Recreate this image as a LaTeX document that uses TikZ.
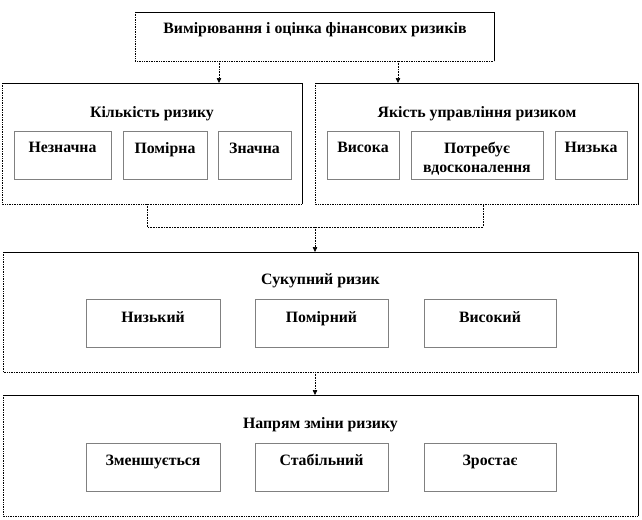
\documentclass[tikz,border=0pt]{standalone}
\usepackage{fontspec}
\setmainfont{Liberation Serif}
\usetikzlibrary{arrows.meta}
\begin{document}
\begin{tikzpicture}[x=1pt, y=-1pt,
    font=\fontsize{15.8}{18}\selectfont\bfseries,
    outer/.style={inner sep=0pt, outer sep=0pt},
    inner/.style={draw=black!50, line width=0.8pt, inner sep=0pt, minimum height=48pt},
    title/.style={inner sep=0pt},
    conn/.style={densely dotted, line width=0.6pt},
    tip/.style={-{Triangle[length=5pt, width=4.5pt]}}]
    \useasboundingbox (0,0) rectangle (642,519);
    % Outer frames
    \node[outer, minimum width=359pt, minimum height=49pt] (top) at (314.5,36.5) {};
    \node[outer, minimum width=300pt, minimum height=121pt] (L) at (152,143.5) {};
    \node[outer, minimum width=323pt, minimum height=121pt] (R) at (476.5,143.5) {};
    \node[outer, minimum width=635pt, minimum height=120pt] (S) at (320.5,312) {};
    \node[outer, minimum width=635pt, minimum height=121pt] (N) at (320.5,455.5) {};
    \foreach \b in {top,L,R,S,N} {
        \draw[densely dotted, line width=0.7pt] (\b.north west) |- (\b.south east);
        \draw[line width=0.7pt] (\b.north west) -| (\b.south east);
    }
    % Titles
    \node[title] (tTop) at (315,29.5) {Вимірювання і оцінка фінансових ризиків};
    \node[title] (tL) at (152,114) {Кількість ризику};
    \node[title] (tR) at (477,114) {Якість управління ризиком};
    \node[title] (tS) at (320.5,281) {Сукупний ризик};
    \node[title] (tN) at (320.5,425) {Напрям зміни ризику};
    % Inner boxes, text at top
    \tikzset{lbl/.style={label={[anchor=north, yshift=-8.5pt, align=center, font=\fontsize{15.8}{19}\selectfont\bfseries]north:#1}}}
    \node[inner, minimum width=97pt, lbl=Незначна] (q1) at (62.5,155) {};
    \node[inner, minimum width=84pt, lbl=Помірна] (q2) at (165,155) {};
    \node[inner, minimum width=73pt, lbl=Значна] (q3) at (254.5,155) {};
    \node[inner, minimum width=72pt, lbl=Висока] (m1) at (363,155) {};
    \node[inner, minimum width=132pt, lbl={Потребує\\вдосконалення}] (m2) at (477,155) {};
    \node[inner, minimum width=72pt, lbl=Низька] (m3) at (591,155) {};
    \node[inner, minimum width=134pt, lbl=Низький] (s1) at (153,323.5) {};
    \node[inner, minimum width=133pt, lbl=Помірний] (s2) at (321.5,323.5) {};
    \node[inner, minimum width=132pt, lbl=Високий] (s3) at (490,323.5) {};
    \node[inner, minimum width=134pt, lbl=Зменшується] (n1) at (153,467) {};
    \node[inner, minimum width=133pt, lbl=Стабільний] (n2) at (321.5,467) {};
    \node[inner, minimum width=132pt, lbl=Зростає] (n3) at (490,467) {};
    % Connectors
    \coordinate (aL) at (219,83); \coordinate (aR) at (398,83);
    \coordinate (bL) at (147,227); \coordinate (bR) at (483,227);
    \coordinate (bM) at (315,227);
    \draw[conn, tip] (top.south -| aL) -- (aL);
    \draw[conn, tip] (top.south -| aR) -- (aR);
    \draw[conn] (L.south -| bL) -- (bL) -- (bR) -- (R.south -| bR);
    \draw[conn, tip] (bM) -- (S.north -| bM);
    \draw[conn, tip] (S.south -| bM) -- (N.north -| bM);
\end{tikzpicture}
\end{document}
